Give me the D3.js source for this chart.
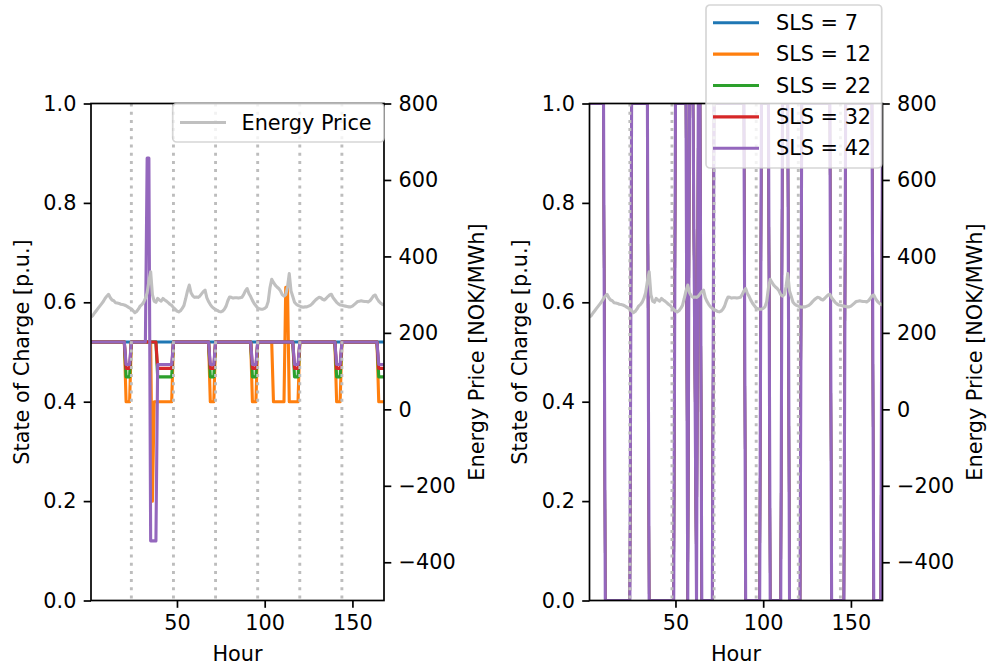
<!DOCTYPE html>
<html><head><meta charset="utf-8">
<script src="https://cdn.jsdelivr.net/npm/d3@7"></script>
<style>body{margin:0;background:#fff}svg{display:block}text{font-family:"DejaVu Sans",sans-serif}</style>
</head><body><svg id="c" width="987" height="668"></svg>
<script>
// ---------------- DATA ----------------
const hours = Array.from({length: 168}, (_, i) => i + 1);
const dayMarks = [24, 48, 72, 96, 120, 144];
const seriesNames = ["SLS = 7", "SLS = 12", "SLS = 22", "SLS = 32", "SLS = 42"];
const xTicks = [50, 100, 150];
const socTicks = [0, 0.2, 0.4, 0.6, 0.8, 1.0];
const priceTicks = [-400, -200, 0, 200, 400, 600, 800];

// Energy price [NOK/MWh], hourly (one row per day)
const price = [
  242,245,252,258, 264,270,276,282, 290,296,301,292, 286,284,279,278, 277,275,274,273, 271,268,265,263,
  258,253,256,262, 270,274,280,290, 305,335,360,300, 283,280,290,286, 283,290,286,283, 279,275,272,266,
  262,257,255,258, 264,272,290,310, 325,305,297,293, 294,293,296,302, 308,312,292,282, 274,268,264,261,
  259,256,255,257, 262,270,284,294, 293,291,292,292, 291,292,293,300, 310,316,303,295, 285,277,271,265,
  263,262,262,264, 268,282,318,340, 332,325,320,316, 310,300,296,300, 320,355,310,295, 280,275,272,270,
  268,267,268,268, 270,272,276,281, 286,290,293,292, 288,286,290,295, 299,301,292,286, 280,276,273,272,
  271,270,269,268, 268,270,274,278, 282,283,284,283, 282,282,281,284, 290,297,299,290, 283,278,275,273
];

// Left panel: state of charge [p.u.]
const socL7 = [
  .52,.52,.52,.52, .52,.52,.52,.52, .52,.52,.52,.52, .52,.52,.52,.52, .52,.52,.52,.52, .52,.52,.52,.52,
  .52,.52,.52,.52, .52,.52,.52,.52, .52,.52,.52,.52, .52,.52,.52,.52, .52,.52,.52,.52, .52,.52,.52,.52,
  .52,.52,.52,.52, .52,.52,.52,.52, .52,.52,.52,.52, .52,.52,.52,.52, .52,.52,.52,.52, .52,.52,.52,.52,
  .52,.52,.52,.52, .52,.52,.52,.52, .52,.52,.52,.52, .52,.52,.52,.52, .52,.52,.52,.52, .52,.52,.52,.52,
  .52,.52,.52,.52, .52,.52,.52,.52, .52,.52,.52,.52, .52,.52,.52,.52, .52,.52,.52,.52, .52,.52,.52,.52,
  .52,.52,.52,.52, .52,.52,.52,.52, .52,.52,.52,.52, .52,.52,.52,.52, .52,.52,.52,.52, .52,.52,.52,.52,
  .52,.52,.52,.52, .52,.52,.52,.52, .52,.52,.52,.52, .52,.52,.52,.52, .52,.52,.52,.52, .52,.52,.52,.52
];
const socL12 = [
  .52,.52,.52,.52, .52,.52,.52,.52, .52,.52,.52,.52, .52,.52,.52,.52, .52,.52,.52,.52, .40,.40,.40,.52,
  .52,.52,.52,.52, .52,.52,.52,.52, .52,.52,.52,.20, .40,.40,.40,.40, .40,.40,.40,.40, .40,.40,.40,.52,
  .52,.52,.52,.52, .52,.52,.52,.52, .52,.52,.52,.52, .52,.52,.52,.52, .52,.52,.52,.52, .40,.40,.40,.52,
  .52,.52,.52,.52, .52,.52,.52,.52, .52,.52,.52,.52, .52,.52,.52,.52, .52,.52,.52,.52, .40,.40,.40,.52,
  .52,.52,.52,.52, .52,.52,.52,.52, .40,.40,.40,.40, .40,.40,.40,.63, .63,.40,.40,.40, .40,.40,.40,.52,
  .52,.52,.52,.52, .52,.52,.52,.52, .52,.52,.52,.52, .52,.52,.52,.52, .52,.52,.52,.52, .40,.40,.40,.52,
  .52,.52,.52,.52, .52,.52,.52,.52, .52,.52,.52,.52, .52,.52,.52,.52, .52,.52,.52,.52, .40,.40,.40,.40
];
const socL22 = [
  .52,.52,.52,.52, .52,.52,.52,.52, .52,.52,.52,.52, .52,.52,.52,.52, .52,.52,.52,.52, .45,.45,.45,.52,
  .52,.52,.52,.52, .52,.52,.52,.52, .52,.52,.52,.52, .52,.52,.45,.45, .45,.45,.45,.45, .45,.45,.45,.52,
  .52,.52,.52,.52, .52,.52,.52,.52, .52,.52,.52,.52, .52,.52,.52,.52, .52,.52,.52,.52, .45,.45,.45,.52,
  .52,.52,.52,.52, .52,.52,.52,.52, .52,.52,.52,.52, .52,.52,.52,.52, .52,.52,.52,.52, .45,.45,.45,.52,
  .52,.52,.52,.52, .52,.52,.52,.52, .52,.52,.52,.52, .52,.52,.52,.52, .52,.52,.52,.52, .45,.45,.45,.52,
  .52,.52,.52,.52, .52,.52,.52,.52, .52,.52,.52,.52, .52,.52,.52,.52, .52,.52,.52,.52, .45,.45,.45,.52,
  .52,.52,.52,.52, .52,.52,.52,.52, .52,.52,.52,.52, .52,.52,.52,.52, .52,.52,.52,.52, .45,.45,.45,.45
];
const socL32 = [
  .52,.52,.52,.52, .52,.52,.52,.52, .52,.52,.52,.52, .52,.52,.52,.52, .52,.52,.52,.52, .467,.467,.467,.52,
  .52,.52,.52,.52, .52,.52,.52,.52, .52,.52,.52,.52, .52,.52,.467,.467, .467,.467,.467,.467, .467,.467,.467,.52,
  .52,.52,.52,.52, .52,.52,.52,.52, .52,.52,.52,.52, .52,.52,.52,.52, .52,.52,.52,.52, .467,.467,.467,.52,
  .52,.52,.52,.52, .52,.52,.52,.52, .52,.52,.52,.52, .52,.52,.52,.52, .52,.52,.52,.52, .467,.467,.467,.52,
  .52,.52,.52,.52, .52,.52,.52,.52, .52,.52,.52,.52, .52,.52,.52,.52, .52,.52,.52,.52, .467,.467,.467,.52,
  .52,.52,.52,.52, .52,.52,.52,.52, .52,.52,.52,.52, .52,.52,.52,.52, .52,.52,.52,.52, .467,.467,.467,.52,
  .52,.52,.52,.52, .52,.52,.52,.52, .52,.52,.52,.52, .52,.52,.52,.52, .52,.52,.52,.52, .467,.467,.467,.467
];
const socL42 = [
  .52,.52,.52,.52, .52,.52,.52,.52, .52,.52,.52,.52, .52,.52,.52,.52, .52,.52,.52,.52, .475,.475,.475,.52,
  .52,.52,.52,.52, .52,.52,.52,.52, .89,.89,.12,.12, .12,.12,.475,.475, .475,.475,.475,.475, .475,.475,.475,.52,
  .52,.52,.52,.52, .52,.52,.52,.52, .52,.52,.52,.52, .52,.52,.52,.52, .52,.52,.52,.52, .475,.475,.475,.52,
  .52,.52,.52,.52, .52,.52,.52,.52, .52,.52,.52,.52, .52,.52,.52,.52, .52,.52,.52,.52, .475,.475,.475,.52,
  .52,.52,.52,.52, .52,.52,.52,.52, .52,.52,.52,.52, .52,.52,.52,.52, .52,.52,.52,.52, .475,.475,.475,.52,
  .52,.52,.52,.52, .52,.52,.52,.52, .52,.52,.52,.52, .52,.52,.52,.52, .52,.52,.52,.52, .475,.475,.475,.52,
  .52,.52,.52,.52, .52,.52,.52,.52, .52,.52,.52,.52, .52,.52,.52,.52, .52,.52,.52,.52, .475,.475,.475,.475
];

// Right panel: state of charge [p.u.] (all SLS cases coincide)
const socR = [
  1,1,1,1, 1,1,1,1, 1,0,0,0, 0,0,0,0, 0,0,0,0, 0,0,0,0,
  1,1,1,1, 1,1,1,1, 1,1,0,0, 0,0,0,0, 0,0,0,0, 0,0,0,0,
  0,1,1,1, 1,1,1,1, 0,1,1,1, .5,0,1,1, 0,0,0,0, 0,0,0,1,
  1,1,1,1, 1,1,1,1, 1,1,1,1, 1,1,1,1, 1,0,0,0, 0,0,0,0,
  0,0,1,1, 1,1,1,0, 0,0,0,0, 0,0,1,1, 1,1,0,0, 0,0,0,0,
  0,1,1,1, 1,1,1,1, 1,1,1,1, 1,1,1,1, 1,1,0,0, 0,0,0,0,
  0,0,1,1, 1,1,1,1, 1,1,1,1, 1,1,1,1, 1,1,0,0, 0,0,0,1
];
const socR7 = socR, socR12 = socR, socR22 = socR, socR32 = socR, socR42 = socR;

// ---------------- DRAW ----------------
const svg = d3.select("#c");
const FS = 20.8;
const colors = ["#1f77b4", "#ff7f0e", "#2ca02c", "#d62728", "#9467bd"];
const TOP = 103.5, BOT = 600.5;
const LW = 3.1, SPINE = 1.7, TICK = 7.3, PAD = 7.3;

function styleAxis(g) {
  g.select(".domain").remove();
  g.selectAll(".tick line").attr("stroke", "#000").attr("stroke-width", SPINE);
  g.selectAll(".tick text").attr("font-size", FS).attr("fill", "#000")
    .attr("font-family", "DejaVu Sans, sans-serif");
  g.attr("font-size", FS).attr("font-family", "DejaVu Sans, sans-serif");
}

function panel(x0, x1, series, idx, leftLabelX, rightLabelX, coincident) {
  const x = d3.scaleLinear().domain([1, 168]).range([x0, x1]);
  const y = d3.scaleLinear().domain([0, 1]).range([BOT, TOP]);
  const yp = d3.scaleLinear().domain([-500, 800]).range([BOT, TOP]);
  const clipId = "clip" + idx;
  svg.append("clipPath").attr("id", clipId).append("rect")
    .attr("x", x0).attr("y", TOP).attr("width", x1 - x0).attr("height", BOT - TOP);
  const plot = svg.append("g").attr("clip-path", `url(#${clipId})`);
  const line = d3.line().x((d, i) => x(hours[i])).y(d => y(d));
  series.forEach((s, k) => {
    // coincident series lie exactly under the last one; keep them inside its stroke
    const w = (coincident && k < series.length - 1) ? LW - 0.8 : LW;
    plot.append("path").datum(s).attr("d", line).attr("fill", "none")
      .attr("stroke", colors[k]).attr("stroke-width", w)
      .attr("stroke-linejoin", "round");
  });
  dayMarks.forEach(h => {
    plot.append("line").attr("x1", x(h)).attr("x2", x(h)).attr("y1", TOP).attr("y2", BOT)
      .attr("stroke", "#bdbdbd").attr("stroke-width", 2.9).attr("stroke-dasharray", "3,5.2");
  });
  const pline = d3.line().x((d, i) => x(hours[i])).y(d => yp(d));
  plot.append("path").datum(price).attr("d", pline).attr("fill", "none")
    .attr("stroke", "#c0c0c0").attr("stroke-width", LW).attr("stroke-linejoin", "round");

  // axes
  const gx = svg.append("g").attr("transform", `translate(0,${BOT})`)
    .call(d3.axisBottom(x).tickValues(xTicks).tickSize(TICK).tickPadding(PAD).tickFormat(d3.format("d")));
  styleAxis(gx);
  const gy = svg.append("g").attr("transform", `translate(${x0},0)`)
    .call(d3.axisLeft(y).tickValues(socTicks).tickSize(TICK).tickPadding(PAD).tickFormat(d3.format(".1f")));
  styleAxis(gy);
  const gp = svg.append("g").attr("transform", `translate(${x1},0)`)
    .call(d3.axisRight(yp).tickValues(priceTicks).tickSize(TICK).tickPadding(PAD).tickFormat(d3.format("d")));
  styleAxis(gp);

  svg.append("rect").attr("x", x0).attr("y", TOP).attr("width", x1 - x0).attr("height", BOT - TOP)
    .attr("fill", "none").attr("stroke", "#000").attr("stroke-width", SPINE);

  svg.append("text").attr("x", (x0 + x1) / 2).attr("y", 661).attr("text-anchor", "middle")
    .attr("font-size", FS).text("Hour");
  svg.append("text").attr("transform", `translate(${leftLabelX},${(TOP + BOT) / 2}) rotate(-90)`)
    .attr("text-anchor", "middle").attr("dominant-baseline", "central")
    .attr("font-size", FS).text("State of Charge [p.u.]");
  svg.append("text").attr("transform", `translate(${rightLabelX},${(TOP + BOT) / 2}) rotate(-90)`)
    .attr("text-anchor", "middle").attr("dominant-baseline", "central")
    .attr("font-size", FS).text("Energy Price [NOK/MWh]");
  return x;
}

panel(91, 384, [socL7, socL12, socL22, socL32, socL42], 1, 22, 477, false);
panel(589.5, 882.5, [socR7, socR12, socR22, socR32, socR42], 2, 520, 975, true);

// legends
function legendBox(x, y, w, h) {
  svg.append("rect").attr("x", x).attr("y", y).attr("width", w).attr("height", h)
    .attr("rx", 4).attr("ry", 4).attr("fill", "#fff").attr("fill-opacity", 0.8)
    .attr("stroke", "#cccccc").attr("stroke-opacity", 0.8).attr("stroke-width", 1.7);
}
// left: Energy Price
legendBox(172.7, 103.5, 211.3, 38.5);
svg.append("line").attr("x1", 180).attr("x2", 226).attr("y1", 122.5).attr("y2", 122.5)
  .attr("stroke", "#c0c0c0").attr("stroke-width", LW);
svg.append("text").attr("x", 241.5).attr("y", 122.5).attr("dominant-baseline", "central")
  .attr("font-size", FS).text("Energy Price");

// right: SLS cases
legendBox(706, 5, 175.7, 163);
seriesNames.forEach((n, i) => {
  const yy = 22.7 + i * 31.4;
  svg.append("line").attr("x1", 713).attr("x2", 759).attr("y1", yy).attr("y2", yy)
    .attr("stroke", colors[i]).attr("stroke-width", LW);
  svg.append("text").attr("x", 776).attr("y", yy).attr("dominant-baseline", "central")
    .attr("font-size", FS).text(n);
});
</script>
</body></html>
